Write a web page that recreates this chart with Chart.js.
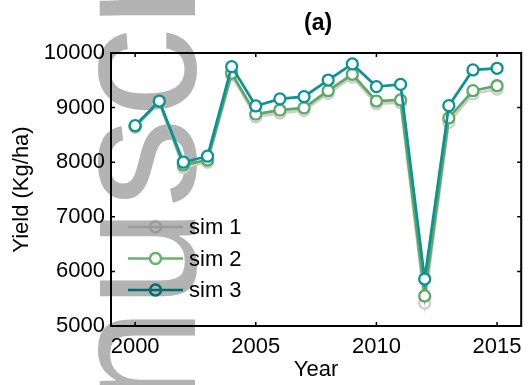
<!DOCTYPE html>
<html>
<head>
<meta charset="utf-8">
<script src="https://cdn.jsdelivr.net/npm/chart.js@4"></script>
<style>
  body { margin: 0; background: #fff; }
  canvas { display: block; }
</style>
</head>
<body>
<canvas id="yieldChart" width="529" height="385"></canvas>
<script>
// Values
const years = [2000, 2001, 2002, 2003, 2004, 2005, 2006, 2007, 2008, 2009, 2010, 2011, 2012, 2013, 2014, 2015];
const sim1 = [8640, 9090, 7900, 8000, 9590, 8830, 8900, 8950, 9260, 9560, 9070, 9090, 5420, 8730, 9250, 9340];
const sim2 = [8660, 9110, 7950, 8040, 9630, 8880, 8955, 8995, 9310, 9610, 9120, 9140, 5550, 8810, 9310, 9400];
const sim3 = [8670, 9120, 8000, 8110, 9750, 9030, 9160, 9200, 9505, 9800, 9385, 9425, 5860, 9035, 9690, 9720];
const xTicks = [2000, 2005, 2010, 2015];
const yTicks = [5000, 6000, 7000, 8000, 9000, 10000];
const seriesNames = ['sim 1', 'sim 2', 'sim 3'];

const FONT = "'Liberation Sans', Arial, Helvetica, sans-serif";

// helper to pair years with values
function toPoints(values) {
    return values.map((v, i) => ({ x: years[i], y: v }));
}

// grey "Manuscript" watermark behind the plot
const watermark = {
    id: 'watermark',
    beforeDraw(chart) {
        const ctx = chart.ctx;
        ctx.save();
        ctx.translate(195, 408);
        ctx.rotate(-Math.PI / 2);
        ctx.font = '180px ' + FONT;
        ctx.fillStyle = '#b3b3b3';
        ctx.textBaseline = 'alphabetic';
        ctx.fillText('nuscript', 0, 0);
        ctx.restore();
    }
};

// closed box with inward ticks, title and legend (matlab style)
const frame = {
    id: 'frame',
    afterDraw(chart) {
        const ctx = chart.ctx;
        const a = chart.chartArea;
        const xs = chart.scales.x, ys = chart.scales.y;
        ctx.save();
        ctx.strokeStyle = '#000';
        ctx.lineWidth = 2;
        ctx.strokeRect(a.left, a.top, a.right - a.left, a.bottom - a.top);

        ctx.lineWidth = 1.5;
        ctx.beginPath();
        xTicks.forEach(t => {
            const px = xs.getPixelForValue(t);
            ctx.moveTo(px, a.bottom); ctx.lineTo(px, a.bottom - 4);
            ctx.moveTo(px, a.top); ctx.lineTo(px, a.top + 4);
        });
        yTicks.forEach(t => {
            const py = ys.getPixelForValue(t);
            ctx.moveTo(a.left, py); ctx.lineTo(a.left + 4, py);
            ctx.moveTo(a.right, py); ctx.lineTo(a.right - 4, py);
        });
        ctx.stroke();

        // title
        ctx.fillStyle = '#000';
        ctx.font = 'bold 23px ' + FONT;
        ctx.textAlign = 'center';
        ctx.textBaseline = 'middle';
        ctx.fillText('(a)', (a.left + a.right) / 2 + 2, 24);

        // legend inside the axes, lower left
        const legendColors = ['#9a9a9a', '#66b36b', '#006e6e'];
        ctx.font = '22px ' + FONT;
        ctx.textAlign = 'left';
        seriesNames.forEach((name, i) => {
            const y = 227 + i * 31.5;
            ctx.strokeStyle = legendColors[i];
            ctx.lineWidth = 2.5;
            ctx.beginPath();
            ctx.moveTo(128, y); ctx.lineTo(183, y);
            ctx.stroke();
            ctx.beginPath();
            ctx.arc(155.5, y, 5.5, 0, Math.PI * 2);
            ctx.fillStyle = i === 1 ? '#fff' : 'rgba(255,255,255,0)';
            ctx.fill();
            ctx.stroke();
            ctx.fillStyle = '#000';
            ctx.fillText(name, 189, y + 1);
        });
        ctx.restore();
    }
};

const ctx = document.getElementById('yieldChart').getContext('2d');

new Chart(ctx, {
    type: 'line',
    data: {
        datasets: [
            {
                label: seriesNames[0],
                data: toPoints(sim1),
                borderColor: '#cdcdcd',
                pointBorderColor: '#cdcdcd',
                order: 3
            },
            {
                label: seriesNames[1],
                data: toPoints(sim2),
                borderColor: '#5ea866',
                pointBorderColor: '#5ea866',
                order: 2
            },
            {
                label: seriesNames[2],
                data: toPoints(sim3),
                borderColor: '#0a9393',
                pointBorderColor: '#0a9393',
                order: 1
            }
        ]
    },
    options: {
        responsive: false,
        animation: false,
        devicePixelRatio: 1,
        layout: { padding: { top: 53, right: 1, left: 0, bottom: 0 } },
        elements: {
            line: { borderWidth: 2.7, tension: 0 },
            point: { radius: 5.5, borderWidth: 2.3, backgroundColor: '#fff', hoverRadius: 5.5 }
        },
        scales: {
            x: {
                type: 'linear',
                min: 1999,
                max: 2016,
                afterBuildTicks: scale => { scale.ticks = xTicks.map(v => ({ value: v })); },
                afterFit: scale => {
                    scale.height = 59;
                    scale.paddingLeft = 0;
                    scale.paddingRight = 0;
                },
                grid: { display: false, drawTicks: false },
                border: { display: false },
                ticks: {
                    color: '#000',
                    font: { family: FONT, size: 22 },
                    padding: 8,
                    maxRotation: 0,
                    callback: v => String(v)
                },
                title: {
                    display: true,
                    text: 'Year',
                    color: '#000',
                    font: { family: FONT, size: 22 },
                    padding: { top: 0, bottom: 2 }
                }
            },
            y: {
                min: 5000,
                max: 10000,
                afterBuildTicks: scale => { scale.ticks = yTicks.map(v => ({ value: v })); },
                afterFit: scale => {
                    scale.width = 111;
                    scale.paddingTop = 0;
                    scale.paddingBottom = 0;
                },
                grid: { display: false, drawTicks: false },
                border: { display: false },
                ticks: {
                    color: '#000',
                    font: { family: FONT, size: 22 },
                    padding: 6,
                    callback: v => String(v)
                },
                title: {
                    display: true,
                    text: 'Yield (Kg/ha)',
                    color: '#000',
                    font: { family: FONT, size: 22 },
                    padding: { top: 9, bottom: 0 }
                }
            }
        },
        plugins: {
            legend: { display: false },
            tooltip: { enabled: false }
        }
    },
    plugins: [watermark, frame]
});
</script>
</body>
</html>
